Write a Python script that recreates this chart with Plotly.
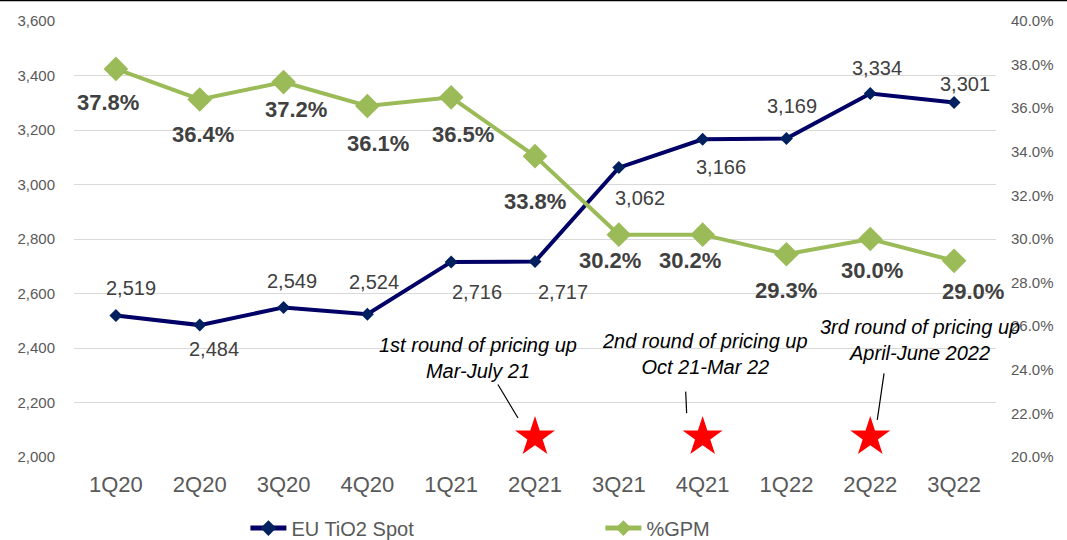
import plotly.graph_objects as go

quarters = ["1Q20", "2Q20", "3Q20", "4Q20", "1Q21", "2Q21", "3Q21", "4Q21", "1Q22", "2Q22", "3Q22"]
tio2_spot = [2519, 2484, 2549, 2524, 2716, 2717, 3062, 3166, 3169, 3334, 3301]
gpm_pct = [37.8, 36.4, 37.2, 36.1, 36.5, 33.8, 30.2, 30.2, 29.3, 30.0, 29.0]

star_quarters = ["2Q21", "4Q21", "2Q22"]
star_level = [2073, 2073, 2073]
round_texts = ["1st round of pricing up<br>Mar-July 21",
               "2nd round of pricing up<br>Oct 21-Mar 22",
               "3rd round of pricing up<br>April-June 2022"]

# label offsets in pixels (style only)
tio2_off = [(15, -28), (14, 24), (8, -26), (7, -32), (26, 30), (28, 30),
            (21, 30), (18, 28), (6, -32), (7, -25), (11, -18)]
gpm_off = [(-8, 34), (3, 35), (12, 27), (11, 37), (12, 37), (0, 45),
           (-9, 26), (-13, 26), (0, 36), (2, 31), (19, 31)]

FONT = "Liberation Sans, Arial, sans-serif"
NAVY = "#000066"
GREEN = "#9BBB59"

fig = go.Figure()
fig.add_trace(go.Scatter(
    x=quarters, y=tio2_spot, name="EU TiO2 Spot", mode="lines+markers",
    line=dict(color=NAVY, width=4), marker=dict(symbol="diamond", size=10, color="#002060"),
    yaxis="y"))
fig.add_trace(go.Scatter(
    x=quarters, y=gpm_pct, name="%GPM", mode="lines+markers",
    line=dict(color=GREEN, width=4), marker=dict(symbol="diamond", size=19, color=GREEN),
    yaxis="y2"))
fig.add_trace(go.Scatter(
    x=star_quarters, y=star_level, mode="markers", showlegend=False,
    marker=dict(symbol="star", size=30, color="#FF0000", line=dict(width=0)),
    yaxis="y", hoverinfo="skip"))

annotations = []
for q, v, (dx, dy) in zip(quarters, tio2_spot, tio2_off):
    annotations.append(dict(x=q, y=v, xref="x", yref="y", text=f"{v:,}", showarrow=False,
                            xshift=dx, yshift=-dy,
                            font=dict(family=FONT, size=20, color="#404040")))
for q, v, (dx, dy) in zip(quarters, gpm_pct, gpm_off):
    annotations.append(dict(x=q, y=v, xref="x", yref="y2", text=f"<b>{v:.1f}%</b>", showarrow=False,
                            xshift=dx, yshift=-dy,
                            font=dict(family=FONT, size=22, color="#404040")))

# round texts
text_pos = [(-57, 2363), (2, 2378), (50, 2429)]
for q, t, (xs, yv) in zip(star_quarters, round_texts, text_pos):
    annotations.append(dict(x=q, y=yv, xref="x", yref="y", text=f"<i>{t}</i>", showarrow=False,
                            xshift=xs, font=dict(family=FONT, size=20, color="#000000")))
# leader lines
leaders = [(-17, 2143, -21, -35), (-16, 2161, -1, -23), (7, 2136, 7, -48)]
for q, (xs, yv, ax, ay) in zip(star_quarters, leaders):
    annotations.append(dict(x=q, y=yv, xref="x", yref="y", text="", showarrow=True,
                            arrowhead=0, arrowwidth=1.2, arrowcolor="#000000",
                            ax=ax, ay=ay, xshift=xs, standoff=0, startstandoff=0))

fig.update_layout(
    width=1067, height=540,
    margin=dict(l=74, r=71, t=21, b=83, autoexpand=False),
    paper_bgcolor="white", plot_bgcolor="white",
    font=dict(family=FONT, color="#595959"),
    showlegend=True,
    legend=dict(orientation="h", xref="container", yref="container",
                x=0.230, xanchor="left", y=0.022, yanchor="middle",
                font=dict(family=FONT, size=20, color="#595959"),
                itemsizing="constant",
                entrywidth=304, entrywidthmode="pixels", itemwidth=36),
    xaxis=dict(type="category", range=[-0.5, len(quarters) - 0.5], autorange=False,
               showgrid=False, showline=False, zeroline=False, automargin=False,
               tickfont=dict(size=22, color="#595959"), ticks="", ticklabelstandoff=12),
    yaxis=dict(range=[2000, 3600], dtick=200, tickformat=",", showgrid=True, automargin=False,
               gridcolor="#D9D9D9", gridwidth=1, zeroline=False, showline=False,
               tickfont=dict(size=15, color="#595959"), ticks="", ticklabelstandoff=18),
    yaxis2=dict(range=[20, 40], dtick=2, tickformat=".1f", ticksuffix="%", overlaying="y",
                side="right", showgrid=False, zeroline=False, showline=False, automargin=False,
                tickfont=dict(size=15, color="#595959"), ticks="", ticklabelstandoff=14),
    annotations=annotations,
    shapes=[dict(type="line", xref="paper", yref="paper", x0=-0.1, x1=1.1,
                 y0=1 + 20.5 / 436, y1=1 + 20.5 / 436, line=dict(color="black", width=1.5))],
)

fig.write_html("out.html", config={"displayModeBar": False},
               post_script="document.body.style.margin='0';document.body.style.overflow='hidden';")
